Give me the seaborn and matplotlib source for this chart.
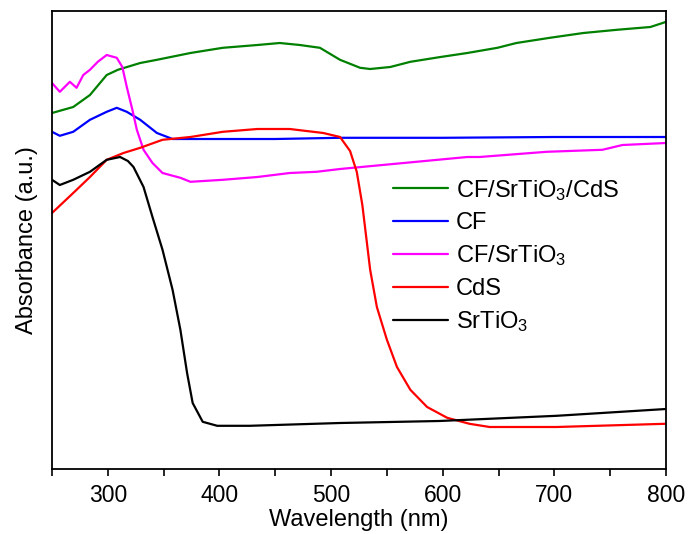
import numpy as np
import pandas as pd
import matplotlib
matplotlib.use("Agg")
import matplotlib.pyplot as plt
from matplotlib.ticker import MultipleLocator
import seaborn as sns

# UV-vis diffuse reflectance absorbance spectra (wavelength in nm, absorbance in a.u.)
wl_cf_sto_cds = [250, 269, 284, 299, 309, 329, 344, 374, 403, 434, 454, 472, 490, 508,
                 526, 535, 553, 571, 598, 622, 649, 666, 696, 726, 756, 786, 797, 800]
abs_cf_sto_cds = [0.890, 0.905, 0.935, 0.985, 0.998, 1.015, 1.023, 1.040, 1.053, 1.060,
                  1.065, 1.060, 1.053, 1.023, 1.003, 1.000, 1.005, 1.018, 1.030, 1.040,
                  1.053, 1.065, 1.078, 1.090, 1.098, 1.105, 1.115, 1.118]

wl_cf = [250, 257, 269, 284, 299, 308, 317, 329, 344, 358, 389, 450, 508, 600, 700, 800]
abs_cf = [0.843, 0.833, 0.843, 0.873, 0.893, 0.903, 0.893, 0.873, 0.840, 0.825, 0.825,
          0.825, 0.828, 0.828, 0.830, 0.830]

wl_cf_sto = [250, 257, 266, 272, 278, 284, 291, 299, 308, 313, 317, 322, 326, 332, 340,
             349, 365, 374, 403, 434, 463, 487, 508, 546, 622, 633, 693, 743, 761, 800]
abs_cf_sto = [0.965, 0.943, 0.968, 0.953, 0.985, 0.998, 1.018, 1.035, 1.028, 1.005, 0.955,
              0.898, 0.848, 0.798, 0.765, 0.740, 0.728, 0.718, 0.723, 0.730, 0.740, 0.743,
              0.750, 0.760, 0.780, 0.780, 0.793, 0.798, 0.810, 0.815]

wl_cds = [250, 269, 284, 299, 314, 329, 349, 374, 403, 434, 463, 493, 508, 517, 523, 528,
          535, 541, 550, 559, 571, 586, 604, 624, 642, 702, 799]
abs_cds = [0.640, 0.690, 0.730, 0.773, 0.790, 0.803, 0.823, 0.830, 0.843, 0.850, 0.850,
           0.840, 0.830, 0.795, 0.743, 0.660, 0.498, 0.405, 0.323, 0.255, 0.198, 0.155,
           0.128, 0.113, 0.105, 0.105, 0.113]

wl_sto = [250, 257, 269, 284, 299, 311, 318, 323, 332, 340, 349, 358, 365, 371, 376, 385,
          398, 427, 508, 597, 702, 800]
abs_sto = [0.723, 0.710, 0.723, 0.743, 0.773, 0.780, 0.770, 0.755, 0.705, 0.630, 0.548,
           0.448, 0.348, 0.240, 0.165, 0.118, 0.108, 0.108, 0.115, 0.120, 0.133, 0.150]

series = [
    (r"CF/SrTiO$_3$/CdS", wl_cf_sto_cds, abs_cf_sto_cds, "#008000"),
    ("CF", wl_cf, abs_cf, "#0000FF"),
    (r"CF/SrTiO$_3$", wl_cf_sto, abs_cf_sto, "#FF00FF"),
    ("CdS", wl_cds, abs_cds, "#FF0000"),
    (r"SrTiO$_3$", wl_sto, abs_sto, "#000000"),
]

frames = [pd.DataFrame({"Wavelength": w, "Absorbance": a, "Sample": name})
          for name, w, a, _ in series]
df = pd.concat(frames, ignore_index=True)
palette = {name: color for name, _, _, color in series}
order = [name for name, *_ in series]

sns.set_style("ticks")
plt.rcParams["font.family"] = ["Liberation Sans", "DejaVu Sans"]
plt.rcParams["mathtext.fontset"] = "custom"
plt.rcParams["mathtext.rm"] = "Liberation Sans"
plt.rcParams["mathtext.it"] = "Liberation Sans:italic"
plt.rcParams["mathtext.bf"] = "Liberation Sans:bold"
plt.rcParams["text.color"] = "black"
plt.rcParams["axes.labelcolor"] = "black"
plt.rcParams["xtick.color"] = "black"
plt.rcParams["xtick.labelcolor"] = "black"

fig = plt.figure(figsize=(6.89, 5.34), dpi=100)
ax = fig.add_axes([52 / 689, 1 - 469 / 534, 614 / 689, 458 / 534])

sns.lineplot(data=df, x="Wavelength", y="Absorbance", hue="Sample",
             hue_order=order, palette=palette, linewidth=1.6, sort=False,
             estimator=None, ax=ax)

ax.set_xlim(250, 800)
ax.set_ylim(0, 1.145)
ax.xaxis.set_major_locator(MultipleLocator(100))
ax.xaxis.set_minor_locator(MultipleLocator(50))
ax.set_yticks([])
ax.tick_params(axis="x", which="both", direction="out", length=5, width=1.2,
               labelsize=16.5, color="black", labelcolor="black", pad=6)
for side in ["left", "right", "top", "bottom"]:
    ax.spines[side].set_visible(True)
    ax.spines[side].set_linewidth(1.3)
    ax.spines[side].set_color("black")

ax.set_xlabel("Wavelength (nm)", fontsize=17, labelpad=1, color="black")
ax.set_ylabel("Absorbance (a.u.)", fontsize=17, labelpad=10, color="black")

leg = ax.legend(loc="upper left", bbox_to_anchor=(0.529, 0.672), frameon=False,
                fontsize=17, handlelength=2.3, handletextpad=0.35, labelspacing=0.4,
                borderpad=0.2)
for txt in leg.get_texts():
    txt.set_color("black")

fig.savefig("out.png", dpi=100)
